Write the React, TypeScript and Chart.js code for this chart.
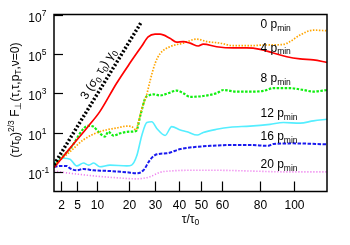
import React, { useEffect, useRef } from 'react';
import { Chart, registerables } from 'chart.js';

Chart.register(...registerables);

const FONT = '"Liberation Sans", Arial, Helvetica, sans-serif';

// ---- data (tau / tau0 and (tau/tau0)^{2/3} F values) ----
const blackTau = [1, 24.7];
const blackVal = [0.23, 4.3e6];

const redTau = [1, 3.65, 7.8, 10.9, 16.0, 20.5, 24.8, 27.2, 29.9, 31.9, 36.0, 38.9, 41.8, 44.9, 48.7, 51.0, 57.5, 65.9, 73.0, 80.3, 87.7, 95.5, 103.4, 111.5, 120];
const redVal = [0.16, 1.6, 21, 115, 3.2e3, 3.4e4, 2.5e5, 7.2e5, 1.0e6, 1.0e6, 6.2e5, 3.9e5, 4.2e5, 3.5e5, 2.5e5, 3.1e5, 2.3e5, 2.0e5, 2.0e5, 1.7e5, 1.1e5, 7.1e4, 5.5e4, 4.9e4, 3.7e4];

const orangeTau = [1, 3.65, 6.55, 10.9, 16.0, 19.4, 21.1, 22.7, 23.5, 24.8, 26.7, 27.9, 29.9, 31.9, 36.0, 41.8, 47.9, 52.7, 59.2, 65.9, 74.8, 82.1, 93.5, 97.4, 103.4, 111.5, 120];
const orangeVal = [0.22, 1.05, 4.2, 11, 17, 21, 20, 13.5, 32, 160, 890, 4.0e3, 3.2e4, 1.0e5, 2.3e5, 3.5e5, 5.6e5, 4.2e5, 3.5e5, 2.6e5, 2.6e5, 2.8e5, 3.0e5, 4.2e5, 9.1e5, 1.6e6, 1.5e6];

const greenTau = [1, 3.65, 7.8, 9.1, 10.9, 12.4, 13.4, 15.0, 17.1, 20.5, 22.7, 24.3, 26.1, 27.4, 29.3, 31.9, 34.7, 38.9, 41.8, 44.9, 51.0, 57.5, 60.9, 67.8, 74.8, 82.1, 87.7, 97.4, 105.5, 111.5, 120];
const greenVal = [0.22, 1.5, 22, 20, 9.1, 6.2, 11, 6.9, 9.1, 11, 12, 78, 550, 760, 870, 760, 930, 1350, 1000, 650, 720, 1000, 1450, 1200, 1200, 1300, 1800, 1800, 1450, 1200, 1450];

const cyanTau = [1, 2.4, 3.65, 5.05, 6.6, 7.9, 9.2, 10.9, 13.9, 19.4, 21.1, 22.9, 24.8, 26.7, 28.6, 30.6, 34.0, 36.8, 40.5, 43.5, 48.2, 51.0, 57.5, 64.3, 74.8, 85.8, 93.5, 103.4, 111.5, 120];
const cyanVal = [0.28, 0.49, 0.44, 0.2, 0.28, 0.22, 0.28, 0.18, 0.22, 0.2, 0.22, 0.63, 7.1, 32, 35, 16, 7.1, 20, 13.5, 11, 7.4, 10, 14.5, 18.6, 21, 26, 32, 30, 39, 47];

const blueTau = [1, 1.86, 3.02, 3.65, 5.05, 6.6, 9.2, 13.9, 19.4, 22.9, 25.4, 27.9, 30.6, 34.7, 40.5, 46.4, 54.4, 64.3, 74.8, 84.9, 87.7, 99.3, 120];
const blueVal = [0.18, 0.2, 0.2, 0.15, 0.12, 0.14, 0.12, 0.11, 0.095, 0.085, 0.12, 0.4, 0.78, 0.87, 1.45, 1.8, 2.1, 2.3, 2.3, 2.1, 2.6, 2.8, 2.5];

const violetTau = [1, 3.65, 9.2, 16.0, 22.9, 27.9, 31.9, 36.0, 44.9, 57.5, 74.8, 93.5, 120];
const violetVal = [0.11, 0.085, 0.062, 0.05, 0.044, 0.056, 0.095, 0.11, 0.12, 0.12, 0.11, 0.1, 0.1];

// ---- axes ----
const tauMin = 1;
const tauMax = 120;
const yMin = 1e-2;
const yMax = 1e7;
const xTickTaus = [2, 5, 10, 20, 30, 40, 50, 60, 80, 100];
const yTickExps = [-1, 1, 3, 5, 7];

// ---- curve labels ----
const seriesLabels = ['0', '4', '8', '12', '16', '20'];
const seriesLabelLevels = [2.0e6, 1.3e5, 3.8e3, 63, 4.2, 0.15];
const seriesLabelTau = 80.5;

const u = (t: number) => Math.pow(t, 2 / 3);
const pts = (ts: number[], vs: number[]) => ts.map((t, i) => ({ x: u(t), y: vs[i] }));

type Seg = { t: string; k?: 'sup' | 'sub' };
const MAIN = 12;
const SMALL = 8.5;
const segFont = (k?: string) => `${k ? SMALL : MAIN}px ${FONT}`;
function richWidth(ctx: CanvasRenderingContext2D, segs: Seg[]) {
  let w = 0;
  for (const s of segs) {
    ctx.font = segFont(s.k);
    w += ctx.measureText(s.t).width;
  }
  return w;
}
function drawRich(ctx: CanvasRenderingContext2D, segs: Seg[], x: number, y: number) {
  let cx = x;
  ctx.textAlign = 'left';
  ctx.textBaseline = 'alphabetic';
  for (const s of segs) {
    ctx.font = segFont(s.k);
    const dy = s.k === 'sup' ? -5 : s.k === 'sub' ? 2.8 : 0;
    ctx.fillText(s.t, cx, y + dy);
    cx += ctx.measureText(s.t).width;
  }
}

const overlay = {
  id: 'overlay',
  afterDatasetsDraw(chart: any) {
    const { ctx, chartArea: a, scales } = chart;
    const xs = scales.x;
    const ys = scales.y;
    ctx.save();
    ctx.fillStyle = '#000';
    ctx.strokeStyle = '#000';

    // frame
    ctx.lineWidth = 1.5;
    ctx.strokeRect(a.left, a.top, a.right - a.left, a.bottom - a.top);

    // x ticks (inward) + labels
    ctx.lineWidth = 1.2;
    for (const t of xTickTaus) {
      const px = Math.round(xs.getPixelForValue(u(t))) + 0.5;
      ctx.beginPath();
      ctx.moveTo(px, a.bottom);
      ctx.lineTo(px, a.bottom - 10);
      ctx.stroke();
      ctx.font = `${MAIN}px ${FONT}`;
      ctx.textAlign = 'center';
      ctx.textBaseline = 'alphabetic';
      ctx.fillText(String(t), px, a.bottom + 17.5);
    }

    // y ticks (inward) + labels 10^n
    for (const e of yTickExps) {
      const py = Math.round(ys.getPixelForValue(Math.pow(10, e))) + 0.5;
      ctx.beginPath();
      ctx.moveTo(a.left, py);
      ctx.lineTo(a.left + 9, py);
      ctx.stroke();
      ctx.font = `${MAIN}px ${FONT}`;
      ctx.textAlign = 'left';
      ctx.textBaseline = 'alphabetic';
      const lx = 28.3;
      ctx.fillText('10', lx, py + 6);
      const w = ctx.measureText('10').width;
      ctx.font = `${SMALL}px ${FONT}`;
      ctx.fillText(String(e), lx + w, py + 0.5);
    }

    // x title
    const xt: Seg[] = [{ t: 'τ/τ' }, { t: '0', k: 'sub' }];
    const xw = richWidth(ctx, xt);
    drawRich(ctx, xt, (a.left + a.right) / 2 - xw / 2, a.bottom + 31);

    // y title
    const yt: Seg[] = [
      { t: '(τ/τ' }, { t: '0', k: 'sub' }, { t: ')' }, { t: '2/3', k: 'sup' },
      { t: ' F' }, { t: '⊥', k: 'sub' }, { t: '(τ,τ,p' }, { t: 'T', k: 'sub' }, { t: ',ν=0)' },
    ];
    const yw = richWidth(ctx, yt);
    ctx.save();
    ctx.translate(18.5, 100);
    ctx.rotate(-Math.PI / 2);
    drawRich(ctx, yt, -yw / 2, 0);
    ctx.restore();

    // curve labels
    for (let i = 0; i < seriesLabels.length; i++) {
      const lx = xs.getPixelForValue(u(seriesLabelTau));
      const ly = ys.getPixelForValue(seriesLabelLevels[i]);
      drawRich(ctx, [{ t: `${seriesLabels[i]} p` }, { t: 'min', k: 'sub' }], lx, ly);
    }

    // slope label along the black line
    const p0 = { x: xs.getPixelForValue(u(blackTau[0])), y: ys.getPixelForValue(blackVal[0]) };
    const n1 = blackTau.length - 1;
    const p1 = { x: xs.getPixelForValue(u(blackTau[n1])), y: ys.getPixelForValue(blackVal[n1]) };
    const ang = Math.atan2(p1.y - p0.y, p1.x - p0.x);
    const along = 72;
    const off = 6;
    const sx = p0.x + Math.cos(ang) * along + Math.sin(ang) * off;
    const sy = p0.y + Math.sin(ang) * along - Math.cos(ang) * off;
    ctx.save();
    ctx.translate(sx, sy);
    ctx.rotate(ang);
    drawRich(ctx, [
      { t: '3 (σ' }, { t: '0', k: 'sub' }, { t: ' τ' }, { t: '0', k: 'sub' }, { t: ') γ' }, { t: '0', k: 'sub' },
    ], 0, 0);
    ctx.restore();

    ctx.restore();
  },
};

export default function App() {
  const ref = useRef<HTMLCanvasElement | null>(null);
  useEffect(() => {
    if (!ref.current) return;
    const common = { pointRadius: 0, fill: false, cubicInterpolationMode: 'monotone' as const, borderCapStyle: 'butt' as const };
    const chart = new Chart(ref.current, {
      type: 'line',
      data: {
        datasets: [
          { label: '3 (σ0 τ0) γ0', data: pts(blackTau, blackVal), borderColor: '#000000', borderWidth: 3.5, borderDash: [2, 2], ...common },
          { label: '0 pmin', data: pts(redTau, redVal), borderColor: '#ff0000', borderWidth: 1.7, ...common },
          { label: '4 pmin', data: pts(orangeTau, orangeVal), borderColor: '#ffa500', borderWidth: 1.7, borderDash: [1.5, 1.5], ...common },
          { label: '8 pmin', data: pts(greenTau, greenVal), borderColor: '#11ee11', borderWidth: 2.2, borderDash: [2.5, 1.5], ...common },
          { label: '12 pmin', data: pts(cyanTau, cyanVal), borderColor: '#55eeff', borderWidth: 1.6, ...common },
          { label: '16 pmin', data: pts(blueTau, blueVal), borderColor: '#1a1aee', borderWidth: 2, borderDash: [3.5, 1.5], ...common },
          { label: '20 pmin', data: pts(violetTau, violetVal), borderColor: '#ee82ee', borderWidth: 1.6, borderDash: [1.2, 1.8], ...common },
        ],
      },
      options: {
        animation: false,
        responsive: false,
        devicePixelRatio: 1,
        layout: { padding: { left: 54, right: 23, top: 14.5, bottom: 53.5 } },
        plugins: { legend: { display: false }, tooltip: { enabled: false } },
        scales: {
          x: { type: 'linear', min: u(tauMin), max: u(tauMax), bounds: 'data', display: false },
          y: { type: 'logarithmic', min: yMin, max: yMax, display: false },
        },
      },
      plugins: [overlay],
    });
    return () => chart.destroy();
  }, []);
  return (
    <div style={{ position: 'absolute', left: 0, top: 0, width: 350, height: 245, background: '#fff' }}>
      <canvas ref={ref} width={350} height={245} style={{ display: 'block', width: 350, height: 245 }} />
    </div>
  );
}
